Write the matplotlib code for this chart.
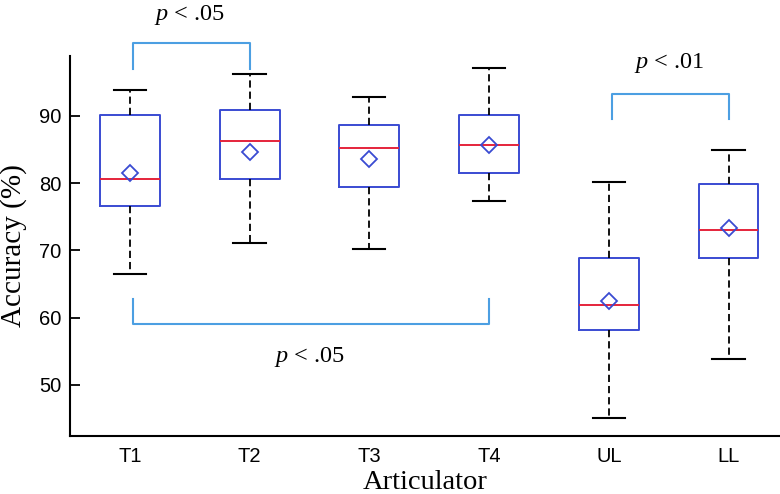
import matplotlib
matplotlib.use("Agg")
import matplotlib.pyplot as plt

# values (accuracy %)
articulators = ['T1', 'T2', 'T3', 'T4', 'UL', 'LL']
whisk_lo = [66.5, 71.1, 70.2, 77.4, 45.1, 53.8]
q1 = [76.6, 80.6, 79.4, 81.5, 58.2, 68.9]
median = [80.6, 86.2, 85.2, 85.6, 61.9, 73.1]
mean = [81.5, 84.6, 83.6, 85.6, 62.4, 73.3]
q3 = [90.2, 90.8, 88.6, 90.2, 68.9, 79.9]
whisk_hi = [93.8, 96.2, 92.8, 97.1, 80.1, 84.9]

# significance brackets: (left idx, right idx, bar level, leg end, text y, label)
brackets = [
    (1, 2, 100.85, 97.0, 105.0, '$p$ < .05'),
    (5, 6, 93.2, 89.5, 97.8, '$p$ < .01'),
    (1, 4, 59.05, 62.7, 54.1, '$p$ < .05'),
]

plt.rcParams['mathtext.fontset'] = 'custom'
plt.rcParams['mathtext.it'] = 'Liberation Serif:italic'
plt.rcParams['mathtext.rm'] = 'Liberation Serif'

box_col = '#3a4bd2'
med_col = '#e5243b'
br_col = '#4c9fe2'

fig = plt.figure(figsize=(7.8, 4.94), dpi=100)
ax = fig.add_axes([70 / 780, 58 / 494, 1 - 70 / 780, 380 / 494])

stats = []
for i in range(len(articulators)):
    stats.append({'whislo': whisk_lo[i], 'q1': q1[i], 'med': median[i],
                  'q3': q3[i], 'whishi': whisk_hi[i], 'mean': mean[i],
                  'fliers': [], 'label': articulators[i]})

ax.bxp(stats, positions=range(1, 7), widths=0.5, showmeans=True,
       boxprops=dict(color=box_col, linewidth=1.4),
       medianprops=dict(color=med_col, linewidth=1.4),
       whiskerprops=dict(color='black', linewidth=1.3, linestyle=(0, (4, 2.2))),
       capprops=dict(color='black', linewidth=1.5),
       meanprops=dict(marker='D', markerfacecolor='none', markeredgecolor=box_col,
                      markersize=8.5, markeredgewidth=1.3),
       capwidths=0.27)

for a, b, lvl, leg, ty, lab in brackets:
    ax.plot([a + 0.03, a + 0.03, b, b], [leg, lvl, lvl, leg], color=br_col,
            linewidth=1.5, clip_on=False)
    ax.text((a + b) / 2, ty, lab, ha='center', va='center', fontsize=17.5,
            family='Liberation Serif')

ax.set_xlim(0.5, 6.43)
ax.set_ylim(42.4, 98.9)
ax.set_yticks([50, 60, 70, 80, 90])
ax.set_xticks(range(1, 7))
ax.set_xticklabels(articulators)
ax.tick_params(axis='x', length=0, labelsize=14.5, pad=8)
ax.tick_params(axis='y', direction='in', length=7, width=1.3, labelsize=14.5, pad=6)
for lbl in ax.get_xticklabels() + ax.get_yticklabels():
    lbl.set_family('Liberation Sans')

ax.spines['top'].set_visible(False)
ax.spines['right'].set_visible(False)
ax.spines['left'].set_linewidth(1.5)
ax.spines['bottom'].set_linewidth(1.5)

ax.set_xlabel('Articulator', fontsize=20.5, family='Liberation Serif', labelpad=3)
ax.set_ylabel('Accuracy (%)', fontsize=21, family='Liberation Serif', labelpad=9)

fig.savefig('out.png', dpi=100)
